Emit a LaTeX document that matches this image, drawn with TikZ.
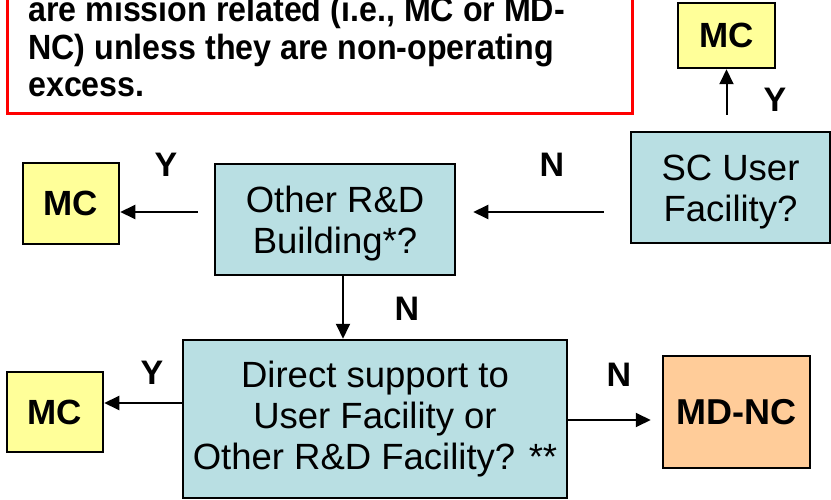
\documentclass[tikz,border=0pt]{standalone}
\usepackage{fontspec}
\setmainfont{Liberation Sans}
\newfontfamily\notefont[FakeStretch=0.92]{Liberation Sans}
\usetikzlibrary{arrows.meta}
\definecolor{boxblue}{RGB}{185,223,227}
\definecolor{mcyellow}{RGB}{255,255,153}
\definecolor{ncorange}{RGB}{255,204,153}
\definecolor{notered}{RGB}{255,0,0}
\begin{document}
\begin{tikzpicture}[x=1pt,y=-1pt,
  qbox/.style={draw=black, line width=2.5pt, fill=boxblue, align=center, inner sep=0pt,
    font={\fontsize{36.5pt}{41pt}\selectfont}},
  mcbox/.style={draw=black, line width=2.5pt, fill=mcyellow, inner sep=0pt,
    font={\bfseries\fontsize{35pt}{40pt}\selectfont}},
  ncbox/.style={draw=black, line width=2.5pt, fill=ncorange, inner sep=0pt,
    font={\bfseries\fontsize{36pt}{40pt}\selectfont}},
  yn/.style={inner sep=0pt, anchor=center, font={\bfseries\fontsize{34pt}{40pt}\selectfont}},
  notetxt/.style={inner sep=0pt, anchor=base west, font={\notefont\bfseries\fontsize{35pt}{37pt}\selectfont}},
  arr/.style={line width=2pt, -{Triangle[length=15pt,width=14pt]}}
]
\useasboundingbox (0,0) rectangle (831,500);
\clip (0,0) rectangle (831,500);

% note box
\node[draw=notered, line width=2.5pt, minimum width=625pt, minimum height=165pt,
      anchor=south west, inner sep=0pt] (note) at (6,115) {};
\node[notetxt] (n1) at (28,22) {are mission related (i.e., MC or MD-};
\node[notetxt] (n2) at (28,60) {NC) unless they are non-operating};
\node[notetxt] (n3) at (28,97) {excess.};

% boxes
\node[mcbox, minimum width=97pt, minimum height=65pt] (mcT) at (726.5,35.5) {MC};
\node[qbox, minimum width=199pt, minimum height=111pt] (sc) at (730.5,187.5)
  {\rule{0pt}{34pt}SC User\\Facility?};
\node[qbox, minimum width=240pt, minimum height=111pt] (oth) at (335,219.5)
  {\rule{0pt}{34pt}Other R\&D\\Building*?};
\node[mcbox, minimum width=96pt, minimum height=81pt] (mcL) at (71,203.5) {MC};
\node[qbox, minimum width=384pt, minimum height=158pt] (dir) at (375,419)
  {Direct support to\\User Facility or\\Other R\&D Facility? **};
\node[mcbox, minimum width=96pt, minimum height=80pt] (mcB) at (55,412) {MC};
\node[ncbox, minimum width=147pt, minimum height=112pt] (mdnc) at (736.5,412) {MD-NC};

% connectors
\draw[arr, shorten <=16pt] (mcT.south |- sc.north) -- (mcT.south);
\draw[arr, shorten <=26pt, shorten >=17pt] (sc.west |- 0,212) -- (oth.east |- 0,212);
\draw[arr, shorten <=16pt] (oth.west |- 0,212) -- (mcL.east |- 0,212);
\draw[arr] (oth.south -| 343,0) -- (dir.north -| 343,0);
\draw[arr] (dir.west |- 0,403) -- (mcB.east |- 0,403);
\draw[arr, shorten >=11pt] (dir.east |- 0,420) -- (mdnc.west |- 0,420);

% labels
\node[yn] (y1) at (775,100) {Y};
\node[yn] (n1l) at (552,165) {N};
\node[yn] (y2) at (166,165) {Y};
\node[yn] (n2l) at (407,309) {N};
\node[yn] (y3) at (152,373) {Y};
\node[yn] (n3l) at (619,375) {N};
\end{tikzpicture}
\end{document}
